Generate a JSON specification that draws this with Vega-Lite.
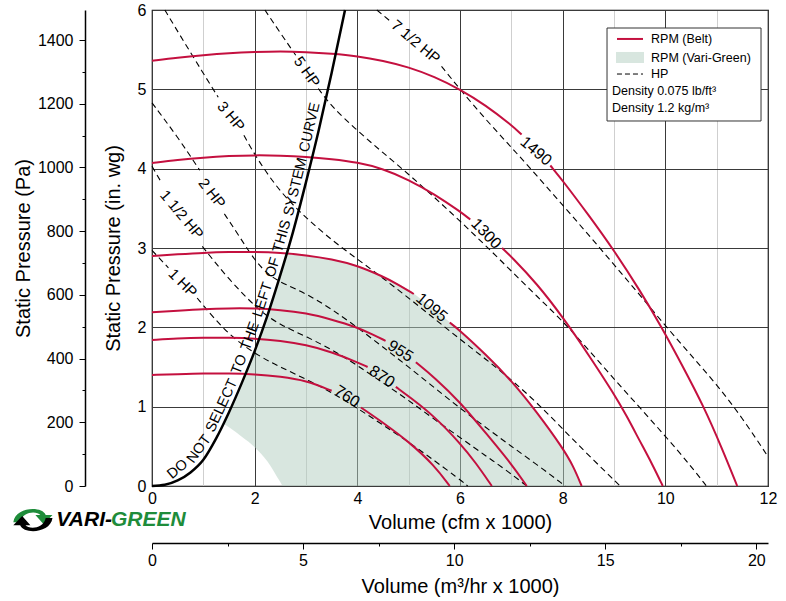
{
 "$schema": "https://vega.github.io/schema/vega-lite/v6.json",
 "width": 616,
 "height": 476,
 "autosize": {"type": "none"},
 "padding": {"left": 152, "top": 10, "right": 18, "bottom": 115},
 "background": "white",
 "config": {
  "font": "Liberation Sans",
  "view": {"stroke": "black", "strokeWidth": 1.2},
  "axis": {"labelFont": "Liberation Sans", "titleFont": "Liberation Sans", "labelColor": "black", "titleColor": "black", "titleFontWeight": "normal", "labelFontSize": 16, "titleFontSize": 20, "labelFlush": false, "labelOverlap": false, "tickColor": "black", "domainColor": "black"}
 },
 "datasets": {
  "curves": [
   {"k":"rpm","n":"1490","s":"a","x":0,"y":5.36},{"k":"rpm","n":"1490","s":"a","x":0.5,"y":5.4},{"k":"rpm","n":"1490","s":"a","x":1,"y":5.43},{"k":"rpm","n":"1490","s":"a","x":1.5,"y":5.455},{"k":"rpm","n":"1490","s":"a","x":2,"y":5.47},{"k":"rpm","n":"1490","s":"a","x":2.5,"y":5.48},{"k":"rpm","n":"1490","s":"a","x":3,"y":5.47},{"k":"rpm","n":"1490","s":"a","x":3.5,"y":5.45},{"k":"rpm","n":"1490","s":"a","x":4,"y":5.42},{"k":"rpm","n":"1490","s":"a","x":4.5,"y":5.36},{"k":"rpm","n":"1490","s":"a","x":5,"y":5.28},{"k":"rpm","n":"1490","s":"a","x":5.5,"y":5.16},{"k":"rpm","n":"1490","s":"a","x":6,"y":5.0},{"k":"rpm","n":"1490","s":"a","x":6.5,"y":4.8},{"k":"rpm","n":"1490","s":"a","x":7,"y":4.55},{"k":"rpm","n":"1490","s":"a","x":7.2,"y":4.43},
   {"k":"rpm","n":"1490","s":"b","x":7.76,"y":4.04},{"k":"rpm","n":"1490","s":"b","x":8,"y":3.85},{"k":"rpm","n":"1490","s":"b","x":8.5,"y":3.42},{"k":"rpm","n":"1490","s":"b","x":9,"y":2.97},{"k":"rpm","n":"1490","s":"b","x":9.5,"y":2.47},{"k":"rpm","n":"1490","s":"b","x":9.93,"y":2.0},{"k":"rpm","n":"1490","s":"b","x":10.33,"y":1.52},{"k":"rpm","n":"1490","s":"b","x":10.75,"y":1.0},{"k":"rpm","n":"1490","s":"b","x":11.1,"y":0.48},{"k":"rpm","n":"1490","s":"b","x":11.4,"y":0},
   {"k":"rpm","n":"1300","s":"a","x":0,"y":4.07},{"k":"rpm","n":"1300","s":"a","x":0.5,"y":4.11},{"k":"rpm","n":"1300","s":"a","x":1,"y":4.14},{"k":"rpm","n":"1300","s":"a","x":1.5,"y":4.16},{"k":"rpm","n":"1300","s":"a","x":2,"y":4.17},{"k":"rpm","n":"1300","s":"a","x":2.5,"y":4.165},{"k":"rpm","n":"1300","s":"a","x":3,"y":4.15},{"k":"rpm","n":"1300","s":"a","x":3.5,"y":4.12},{"k":"rpm","n":"1300","s":"a","x":4,"y":4.08},{"k":"rpm","n":"1300","s":"a","x":4.5,"y":4.0},{"k":"rpm","n":"1300","s":"a","x":5,"y":3.86},{"k":"rpm","n":"1300","s":"a","x":5.5,"y":3.68},{"k":"rpm","n":"1300","s":"a","x":6,"y":3.46},{"k":"rpm","n":"1300","s":"a","x":6.2,"y":3.36},
   {"k":"rpm","n":"1300","s":"b","x":6.82,"y":3.0},{"k":"rpm","n":"1300","s":"b","x":7,"y":2.89},{"k":"rpm","n":"1300","s":"b","x":7.5,"y":2.55},{"k":"rpm","n":"1300","s":"b","x":8,"y":2.13},{"k":"rpm","n":"1300","s":"b","x":8.5,"y":1.66},{"k":"rpm","n":"1300","s":"b","x":9,"y":1.16},{"k":"rpm","n":"1300","s":"b","x":9.25,"y":0.88},{"k":"rpm","n":"1300","s":"b","x":9.5,"y":0.57},{"k":"rpm","n":"1300","s":"b","x":9.75,"y":0.27},{"k":"rpm","n":"1300","s":"b","x":9.95,"y":0},
   {"k":"rpm","n":"1095","s":"a","x":0,"y":2.9},{"k":"rpm","n":"1095","s":"a","x":0.5,"y":2.92},{"k":"rpm","n":"1095","s":"a","x":1,"y":2.94},{"k":"rpm","n":"1095","s":"a","x":1.5,"y":2.95},{"k":"rpm","n":"1095","s":"a","x":2,"y":2.95},{"k":"rpm","n":"1095","s":"a","x":2.5,"y":2.94},{"k":"rpm","n":"1095","s":"a","x":3,"y":2.91},{"k":"rpm","n":"1095","s":"a","x":3.5,"y":2.86},{"k":"rpm","n":"1095","s":"a","x":4,"y":2.78},{"k":"rpm","n":"1095","s":"a","x":4.5,"y":2.64},{"k":"rpm","n":"1095","s":"a","x":4.8,"y":2.54},{"k":"rpm","n":"1095","s":"a","x":5.1,"y":2.42},
   {"k":"rpm","n":"1095","s":"b","x":5.8,"y":2.06},{"k":"rpm","n":"1095","s":"b","x":6,"y":1.96},{"k":"rpm","n":"1095","s":"b","x":6.5,"y":1.66},{"k":"rpm","n":"1095","s":"b","x":7,"y":1.33},{"k":"rpm","n":"1095","s":"b","x":7.5,"y":0.93},{"k":"rpm","n":"1095","s":"b","x":8,"y":0.48},{"k":"rpm","n":"1095","s":"b","x":8.2,"y":0.26},{"k":"rpm","n":"1095","s":"b","x":8.37,"y":0},
   {"k":"rpm","n":"955","s":"a","x":0,"y":2.19},{"k":"rpm","n":"955","s":"a","x":0.5,"y":2.21},{"k":"rpm","n":"955","s":"a","x":1,"y":2.23},{"k":"rpm","n":"955","s":"a","x":1.5,"y":2.24},{"k":"rpm","n":"955","s":"a","x":2,"y":2.24},{"k":"rpm","n":"955","s":"a","x":2.5,"y":2.22},{"k":"rpm","n":"955","s":"a","x":3,"y":2.18},{"k":"rpm","n":"955","s":"a","x":3.5,"y":2.1},{"k":"rpm","n":"955","s":"a","x":4,"y":2.0},{"k":"rpm","n":"955","s":"a","x":4.3,"y":1.91},{"k":"rpm","n":"955","s":"a","x":4.55,"y":1.83},
   {"k":"rpm","n":"955","s":"b","x":5.14,"y":1.56},{"k":"rpm","n":"955","s":"b","x":5.5,"y":1.37},{"k":"rpm","n":"955","s":"b","x":6,"y":1.06},{"k":"rpm","n":"955","s":"b","x":6.5,"y":0.67},{"k":"rpm","n":"955","s":"b","x":7,"y":0.28},{"k":"rpm","n":"955","s":"b","x":7.3,"y":0},
   {"k":"rpm","n":"870","s":"a","x":0,"y":1.84},{"k":"rpm","n":"870","s":"a","x":0.5,"y":1.86},{"k":"rpm","n":"870","s":"a","x":1,"y":1.87},{"k":"rpm","n":"870","s":"a","x":1.5,"y":1.87},{"k":"rpm","n":"870","s":"a","x":2,"y":1.86},{"k":"rpm","n":"870","s":"a","x":2.5,"y":1.83},{"k":"rpm","n":"870","s":"a","x":3,"y":1.78},{"k":"rpm","n":"870","s":"a","x":3.5,"y":1.69},{"k":"rpm","n":"870","s":"a","x":4,"y":1.56},{"k":"rpm","n":"870","s":"a","x":4.2,"y":1.5},
   {"k":"rpm","n":"870","s":"b","x":4.75,"y":1.25},{"k":"rpm","n":"870","s":"b","x":5,"y":1.13},{"k":"rpm","n":"870","s":"b","x":5.5,"y":0.88},{"k":"rpm","n":"870","s":"b","x":6,"y":0.54},{"k":"rpm","n":"870","s":"b","x":6.3,"y":0.3},{"k":"rpm","n":"870","s":"b","x":6.62,"y":0},
   {"k":"rpm","n":"760","s":"a","x":0,"y":1.4},{"k":"rpm","n":"760","s":"a","x":0.5,"y":1.41},{"k":"rpm","n":"760","s":"a","x":1,"y":1.42},{"k":"rpm","n":"760","s":"a","x":1.5,"y":1.42},{"k":"rpm","n":"760","s":"a","x":2,"y":1.41},{"k":"rpm","n":"760","s":"a","x":2.5,"y":1.38},{"k":"rpm","n":"760","s":"a","x":3,"y":1.33},{"k":"rpm","n":"760","s":"a","x":3.5,"y":1.2},
   {"k":"rpm","n":"760","s":"b","x":4.07,"y":0.99},{"k":"rpm","n":"760","s":"b","x":4.5,"y":0.8},{"k":"rpm","n":"760","s":"b","x":5,"y":0.56},{"k":"rpm","n":"760","s":"b","x":5.5,"y":0.26},{"k":"rpm","n":"760","s":"b","x":5.8,"y":0},
   {"k":"hp","n":"7.5","s":"a","x":4.38,"y":6.0},{"k":"hp","n":"7.5","s":"a","x":4.64,"y":5.86},
   {"k":"hp","n":"7.5","s":"b","x":5.64,"y":5.29},{"k":"hp","n":"7.5","s":"b","x":6,"y":5.0},{"k":"hp","n":"7.5","s":"b","x":6.5,"y":4.62},{"k":"hp","n":"7.5","s":"b","x":7,"y":4.27},{"k":"hp","n":"7.5","s":"b","x":7.5,"y":3.91},{"k":"hp","n":"7.5","s":"b","x":8,"y":3.54},{"k":"hp","n":"7.5","s":"b","x":8.5,"y":3.17},{"k":"hp","n":"7.5","s":"b","x":9,"y":2.79},{"k":"hp","n":"7.5","s":"b","x":9.5,"y":2.41},{"k":"hp","n":"7.5","s":"b","x":10,"y":2.02},{"k":"hp","n":"7.5","s":"b","x":10.5,"y":1.65},{"k":"hp","n":"7.5","s":"b","x":11,"y":1.28},{"k":"hp","n":"7.5","s":"b","x":11.5,"y":0.86},{"k":"hp","n":"7.5","s":"b","x":12,"y":0.37},
   {"k":"hp","n":"5","s":"a","x":2.2,"y":6.0},{"k":"hp","n":"5","s":"a","x":2.5,"y":5.71},{"k":"hp","n":"5","s":"a","x":2.8,"y":5.43},
   {"k":"hp","n":"5","s":"b","x":3.24,"y":5.01},{"k":"hp","n":"5","s":"b","x":3.5,"y":4.78},{"k":"hp","n":"5","s":"b","x":4,"y":4.48},{"k":"hp","n":"5","s":"b","x":4.5,"y":4.2},{"k":"hp","n":"5","s":"b","x":5,"y":3.93},{"k":"hp","n":"5","s":"b","x":5.5,"y":3.64},{"k":"hp","n":"5","s":"b","x":6,"y":3.34},{"k":"hp","n":"5","s":"b","x":6.5,"y":3.03},{"k":"hp","n":"5","s":"b","x":7,"y":2.71},{"k":"hp","n":"5","s":"b","x":7.5,"y":2.39},{"k":"hp","n":"5","s":"b","x":8,"y":2.08},{"k":"hp","n":"5","s":"b","x":8.5,"y":1.72},{"k":"hp","n":"5","s":"b","x":9,"y":1.35},{"k":"hp","n":"5","s":"b","x":9.5,"y":0.99},{"k":"hp","n":"5","s":"b","x":10,"y":0.63},{"k":"hp","n":"5","s":"b","x":10.5,"y":0.25},{"k":"hp","n":"5","s":"b","x":10.8,"y":0},
   {"k":"hp","n":"3","s":"a","x":0.25,"y":6.0},{"k":"hp","n":"3","s":"a","x":0.5,"y":5.73},{"k":"hp","n":"3","s":"a","x":1,"y":5.2},{"k":"hp","n":"3","s":"a","x":1.29,"y":4.9},
   {"k":"hp","n":"3","s":"b","x":1.79,"y":4.42},{"k":"hp","n":"3","s":"b","x":2.05,"y":4.12},{"k":"hp","n":"3","s":"b","x":2.5,"y":3.7},{"k":"hp","n":"3","s":"b","x":3,"y":3.38},{"k":"hp","n":"3","s":"b","x":3.5,"y":3.1},{"k":"hp","n":"3","s":"b","x":4,"y":2.86},{"k":"hp","n":"3","s":"b","x":4.5,"y":2.62},{"k":"hp","n":"3","s":"b","x":5,"y":2.37},{"k":"hp","n":"3","s":"b","x":5.5,"y":2.11},{"k":"hp","n":"3","s":"b","x":6,"y":1.85},{"k":"hp","n":"3","s":"b","x":6.5,"y":1.6},{"k":"hp","n":"3","s":"b","x":7,"y":1.34},{"k":"hp","n":"3","s":"b","x":7.5,"y":1.05},{"k":"hp","n":"3","s":"b","x":8,"y":0.72},{"k":"hp","n":"3","s":"b","x":8.5,"y":0.39},{"k":"hp","n":"3","s":"b","x":9.12,"y":0},
   {"k":"hp","n":"2","s":"a","x":0,"y":4.83},{"k":"hp","n":"2","s":"a","x":0.5,"y":4.4},{"k":"hp","n":"2","s":"a","x":0.93,"y":3.98},
   {"k":"hp","n":"2","s":"b","x":1.41,"y":3.43},{"k":"hp","n":"2","s":"b","x":1.68,"y":3.17},{"k":"hp","n":"2","s":"b","x":2,"y":2.84},{"k":"hp","n":"2","s":"b","x":2.3,"y":2.64},{"k":"hp","n":"2","s":"b","x":2.6,"y":2.54},{"k":"hp","n":"2","s":"b","x":3.02,"y":2.42},{"k":"hp","n":"2","s":"b","x":3.5,"y":2.23},{"k":"hp","n":"2","s":"b","x":4,"y":2.0},{"k":"hp","n":"2","s":"b","x":4.5,"y":1.75},{"k":"hp","n":"2","s":"b","x":5,"y":1.5},{"k":"hp","n":"2","s":"b","x":5.5,"y":1.24},{"k":"hp","n":"2","s":"b","x":6,"y":0.98},{"k":"hp","n":"2","s":"b","x":6.5,"y":0.74},{"k":"hp","n":"2","s":"b","x":7,"y":0.5},{"k":"hp","n":"2","s":"b","x":7.5,"y":0.27},{"k":"hp","n":"2","s":"b","x":8.05,"y":0},
   {"k":"hp","n":"1.5","s":"a","x":0,"y":4.03},{"k":"hp","n":"1.5","s":"a","x":0.18,"y":3.83},
   {"k":"hp","n":"1.5","s":"b","x":0.98,"y":3.02},{"k":"hp","n":"1.5","s":"b","x":1.5,"y":2.6},{"k":"hp","n":"1.5","s":"b","x":2.1,"y":2.2},{"k":"hp","n":"1.5","s":"b","x":2.5,"y":2.03},{"k":"hp","n":"1.5","s":"b","x":3.02,"y":1.88},{"k":"hp","n":"1.5","s":"b","x":3.53,"y":1.71},{"k":"hp","n":"1.5","s":"b","x":4,"y":1.52},{"k":"hp","n":"1.5","s":"b","x":4.5,"y":1.3},{"k":"hp","n":"1.5","s":"b","x":5,"y":1.08},{"k":"hp","n":"1.5","s":"b","x":5.5,"y":0.84},{"k":"hp","n":"1.5","s":"b","x":6.07,"y":0.58},{"k":"hp","n":"1.5","s":"b","x":6.5,"y":0.38},{"k":"hp","n":"1.5","s":"b","x":6.84,"y":0.23},{"k":"hp","n":"1.5","s":"b","x":7.3,"y":0},
   {"k":"hp","n":"1","s":"a","x":0,"y":2.97},{"k":"hp","n":"1","s":"a","x":0.32,"y":2.75},
   {"k":"hp","n":"1","s":"b","x":0.88,"y":2.37},{"k":"hp","n":"1","s":"b","x":1.2,"y":2.12},{"k":"hp","n":"1","s":"b","x":1.58,"y":1.86},{"k":"hp","n":"1","s":"b","x":2.1,"y":1.63},{"k":"hp","n":"1","s":"b","x":2.5,"y":1.5},{"k":"hp","n":"1","s":"b","x":3.02,"y":1.34},{"k":"hp","n":"1","s":"b","x":3.53,"y":1.17},{"k":"hp","n":"1","s":"b","x":4.05,"y":0.96},{"k":"hp","n":"1","s":"b","x":4.5,"y":0.77},{"k":"hp","n":"1","s":"b","x":5.03,"y":0.54},{"k":"hp","n":"1","s":"b","x":5.5,"y":0.32},{"k":"hp","n":"1","s":"b","x":5.94,"y":0.11},{"k":"hp","n":"1","s":"b","x":6.15,"y":0},
   {"k":"sys","n":"system","s":"a","x":0,"y":0},{"k":"sys","n":"system","s":"a","x":0.25,"y":0.015},{"k":"sys","n":"system","s":"a","x":0.5,"y":0.07},{"k":"sys","n":"system","s":"a","x":0.75,"y":0.17},{"k":"sys","n":"system","s":"a","x":1,"y":0.33},{"k":"sys","n":"system","s":"a","x":1.25,"y":0.6},{"k":"sys","n":"system","s":"a","x":1.5,"y":0.93},{"k":"sys","n":"system","s":"a","x":1.75,"y":1.3},{"k":"sys","n":"system","s":"a","x":2,"y":1.7},{"k":"sys","n":"system","s":"a","x":2.25,"y":2.15},{"k":"sys","n":"system","s":"a","x":2.5,"y":2.66},{"k":"sys","n":"system","s":"a","x":2.75,"y":3.21},{"k":"sys","n":"system","s":"a","x":3,"y":3.83},{"k":"sys","n":"system","s":"a","x":3.25,"y":4.49},{"k":"sys","n":"system","s":"a","x":3.5,"y":5.21},{"k":"sys","n":"system","s":"a","x":3.76,"y":6.0}
  ],
  "green": [
   {"x":1.38,"top":0.79,"bot":0.79},{"x":1.5,"top":0.93,"bot":0.74},{"x":1.75,"top":1.3,"bot":0.62},{"x":2,"top":1.7,"bot":0.49},{"x":2.25,"top":2.15,"bot":0.31},{"x":2.5,"top":2.66,"bot":0.05},{"x":2.55,"top":2.77,"bot":0},{"x":2.63,"top":2.94,"bot":0},{"x":3,"top":2.91,"bot":0},{"x":3.5,"top":2.86,"bot":0},{"x":4,"top":2.78,"bot":0},{"x":4.5,"top":2.64,"bot":0},{"x":5,"top":2.47,"bot":0},{"x":5.5,"top":2.22,"bot":0},{"x":6,"top":1.96,"bot":0},{"x":6.5,"top":1.66,"bot":0},{"x":7,"top":1.33,"bot":0},{"x":7.5,"top":0.93,"bot":0},{"x":8,"top":0.48,"bot":0},{"x":8.2,"top":0.26,"bot":0},{"x":8.37,"top":0,"bot":0}
  ]
 },
 "layer": [
  {
   "data": {"values": [{"m3": 0, "pa": 0}, {"m3": 20.388, "pa": 1494.5}]},
   "mark": {"type": "point", "opacity": 0},
   "encoding": {
    "x": {"field": "m3", "type": "quantitative", "scale": {"domain": [0, 20.388], "nice": false, "zero": false},
     "axis": {"orient": "bottom", "offset": 57, "title": "Volume (m³/hr x 1000)", "values": [0, 2.5, 5, 7.5, 10, 12.5, 15, 17.5, 20], "format": "d", "labelExpr": "datum.value % 5 === 0 ? datum.label : ''", "tickSize": {"condition": {"test": "datum.value % 5 === 0", "value": 6}, "value": 3}, "grid": false, "domainWidth": 1.5, "labelPadding": 3, "titlePadding": 8}},
    "y": {"field": "pa", "type": "quantitative", "scale": {"domain": [0, 1494.5], "nice": false, "zero": false},
     "axis": {"orient": "left", "offset": 67, "title": "Static Pressure (Pa)", "values": [0, 100, 200, 300, 400, 500, 600, 700, 800, 900, 1000, 1100, 1200, 1300, 1400], "format": "d", "labelExpr": "datum.value % 200 === 0 ? datum.label : ''", "tickSize": {"condition": {"test": "datum.value % 200 === 0", "value": 6}, "value": 3}, "grid": false, "domainWidth": 1.5, "labelPadding": 6, "titlePadding": 4}}
   }
  },
  {
   "layer": [
    {
     "data": {"name": "green"},
     "mark": {"type": "area", "color": "#b1cdbf", "opacity": 0.5, "interpolate": "monotone"},
     "encoding": {
      "x": {"field": "x", "type": "quantitative", "scale": {"domain": [0, 12], "nice": false, "zero": false},
       "axis": {"orient": "bottom", "title": "Volume (cfm x 1000)", "values": [0,1,2,3,4,5,6,7,8,9,10,11,12], "format": "d", "labelExpr": "datum.value % 2 === 0 ? datum.label : ''", "domain": false, "ticks": false, "labelPadding": 4, "titlePadding": 6, "grid": true, "gridWidth": 1, "gridColor": {"condition": {"test": "datum.value % 2 === 0", "value": "#3a3a3a"}, "value": "#cfcfcf"}}},
      "y": {"field": "top", "type": "quantitative", "scale": {"domain": [0, 6], "nice": false, "zero": false},
       "axis": {"orient": "left", "title": "Static Pressure (in. wg)", "values": [0,0.5,1,1.5,2,2.5,3,3.5,4,4.5,5,5.5,6], "format": "d", "labelExpr": "datum.value % 1 === 0 ? datum.label : ''", "domain": false, "ticks": false, "labelPadding": 6, "titlePadding": 14, "grid": true, "gridWidth": 1, "gridColor": {"condition": {"test": "datum.value % 1 === 0", "value": "#3a3a3a"}, "value": "#cfcfcf"}}},
      "y2": {"field": "bot"}
     }
    },
    {
     "data": {"name": "curves"},
     "transform": [{"filter": "datum.k === 'hp'"}],
     "mark": {"type": "line", "color": "black", "strokeWidth": 1.1, "strokeDash": [6, 4], "interpolate": "basis"},
     "encoding": {"x": {"field": "x", "type": "quantitative"}, "y": {"field": "y", "type": "quantitative"}, "detail": [{"field": "n"}, {"field": "s"}]}
    },
    {
     "data": {"name": "curves"},
     "transform": [{"filter": "datum.k === 'rpm'"}],
     "mark": {"type": "line", "color": "#c4103f", "strokeWidth": 2, "interpolate": "basis"},
     "encoding": {"x": {"field": "x", "type": "quantitative"}, "y": {"field": "y", "type": "quantitative"}, "detail": [{"field": "n"}, {"field": "s"}]}
    },
    {
     "data": {"name": "curves"},
     "transform": [{"filter": "datum.k === 'sys'"}],
     "mark": {"type": "line", "color": "black", "strokeWidth": 2.5, "interpolate": "monotone"},
     "encoding": {"x": {"field": "x", "type": "quantitative"}, "y": {"field": "y", "type": "quantitative"}}
    },
    {"data": {"values": [{}]}, "mark": {"type": "text", "angle": 40, "fontSize": 16}, "encoding": {"x": {"datum": 7.48}, "y": {"datum": 4.22}, "text": {"value": "1490"}}},
    {"data": {"values": [{}]}, "mark": {"type": "text", "angle": 46, "fontSize": 16}, "encoding": {"x": {"datum": 6.51}, "y": {"datum": 3.18}, "text": {"value": "1300"}}},
    {"data": {"values": [{}]}, "mark": {"type": "text", "angle": 40, "fontSize": 16}, "encoding": {"x": {"datum": 5.45}, "y": {"datum": 2.25}, "text": {"value": "1095"}}},
    {"data": {"values": [{}]}, "mark": {"type": "text", "angle": 32, "fontSize": 16}, "encoding": {"x": {"datum": 4.84}, "y": {"datum": 1.7}, "text": {"value": "955"}}},
    {"data": {"values": [{}]}, "mark": {"type": "text", "angle": 33, "fontSize": 16}, "encoding": {"x": {"datum": 4.48}, "y": {"datum": 1.38}, "text": {"value": "870"}}},
    {"data": {"values": [{}]}, "mark": {"type": "text", "angle": 33, "fontSize": 16}, "encoding": {"x": {"datum": 3.8}, "y": {"datum": 1.13}, "text": {"value": "760"}}},
    {"data": {"values": [{}]}, "mark": {"type": "text", "angle": 40, "fontSize": 15}, "encoding": {"x": {"datum": 5.14}, "y": {"datum": 5.6}, "text": {"value": "7 1/2 HP"}}},
    {"data": {"values": [{}]}, "mark": {"type": "text", "angle": 55, "fontSize": 15}, "encoding": {"x": {"datum": 3.02}, "y": {"datum": 5.22}, "text": {"value": "5 HP"}}},
    {"data": {"values": [{}]}, "mark": {"type": "text", "angle": 50, "fontSize": 15}, "encoding": {"x": {"datum": 1.54}, "y": {"datum": 4.66}, "text": {"value": "3 HP"}}},
    {"data": {"values": [{}]}, "mark": {"type": "text", "angle": 52, "fontSize": 15}, "encoding": {"x": {"datum": 1.17}, "y": {"datum": 3.69}, "text": {"value": "2 HP"}}},
    {"data": {"values": [{}]}, "mark": {"type": "text", "angle": 50, "fontSize": 15}, "encoding": {"x": {"datum": 0.58}, "y": {"datum": 3.42}, "text": {"value": "1 1/2 HP"}}},
    {"data": {"values": [{}]}, "mark": {"type": "text", "angle": 45, "fontSize": 15}, "encoding": {"x": {"datum": 0.6}, "y": {"datum": 2.56}, "text": {"value": "1 HP"}}},
    {"data": {"values": [{}]}, "mark": {"type": "text", "angle": -40, "fontSize": 14.5}, "encoding": {"x": {"datum": 0.5}, "y": {"datum": 0.21}, "text": {"value": "DO"}}},
    {"data": {"values": [{}]}, "mark": {"type": "text", "angle": -54, "fontSize": 14.5}, "encoding": {"x": {"datum": 0.919}, "y": {"datum": 0.464}, "text": {"value": "NOT"}}},
    {"data": {"values": [{}]}, "mark": {"type": "text", "angle": -65, "fontSize": 14.5}, "encoding": {"x": {"datum": 1.364}, "y": {"datum": 1.012}, "text": {"value": "SELECT"}}},
    {"data": {"values": [{}]}, "mark": {"type": "text", "angle": -68, "fontSize": 14.5}, "encoding": {"x": {"datum": 1.705}, "y": {"datum": 1.532}, "text": {"value": "TO"}}},
    {"data": {"values": [{}]}, "mark": {"type": "text", "angle": -70, "fontSize": 14.5}, "encoding": {"x": {"datum": 1.917}, "y": {"datum": 1.889}, "text": {"value": "THE"}}},
    {"data": {"values": [{}]}, "mark": {"type": "text", "angle": -72, "fontSize": 14.5}, "encoding": {"x": {"datum": 2.162}, "y": {"datum": 2.347}, "text": {"value": "LEFT"}}},
    {"data": {"values": [{}]}, "mark": {"type": "text", "angle": -73, "fontSize": 14.5}, "encoding": {"x": {"datum": 2.359}, "y": {"datum": 2.754}, "text": {"value": "OF"}}},
    {"data": {"values": [{}]}, "mark": {"type": "text", "angle": -74, "fontSize": 14.5}, "encoding": {"x": {"datum": 2.538}, "y": {"datum": 3.149}, "text": {"value": "THIS"}}},
    {"data": {"values": [{}]}, "mark": {"type": "text", "angle": -76, "fontSize": 14.5}, "encoding": {"x": {"datum": 2.8}, "y": {"datum": 3.77}, "text": {"value": "SYSTEM"}}},
    {"data": {"values": [{}]}, "mark": {"type": "text", "angle": -77, "fontSize": 14.5}, "encoding": {"x": {"datum": 3.08}, "y": {"datum": 4.52}, "text": {"value": "CURVE"}}},
    {"data": {"values": [{}]}, "mark": {"type": "rect", "fill": "white", "stroke": "#333333", "strokeWidth": 1}, "encoding": {"x": {"datum": 8.864}, "x2": {"datum": 11.864}, "y": {"datum": 5.773}, "y2": {"datum": 4.601}}},
    {"data": {"values": [{}]}, "mark": {"type": "rule", "color": "#c4103f", "strokeWidth": 2}, "encoding": {"x": {"datum": 9.058}, "x2": {"datum": 9.565}, "y": {"datum": 5.635}}},
    {"data": {"values": [{}]}, "mark": {"type": "rect", "fill": "#d8e6df"}, "encoding": {"x": {"datum": 9.039}, "x2": {"datum": 9.584}, "y": {"datum": 5.471}, "y2": {"datum": 5.332}}},
    {"data": {"values": [{}]}, "mark": {"type": "rule", "color": "black", "strokeWidth": 1, "strokeDash": [5, 3]}, "encoding": {"x": {"datum": 9.058}, "x2": {"datum": 9.565}, "y": {"datum": 5.193}}},
    {"data": {"values": [{}]}, "mark": {"type": "text", "align": "left", "fontSize": 12.5}, "encoding": {"x": {"datum": 9.721}, "y": {"datum": 5.635}, "text": {"value": "RPM (Belt)"}}},
    {"data": {"values": [{}]}, "mark": {"type": "text", "align": "left", "fontSize": 12.5}, "encoding": {"x": {"datum": 9.721}, "y": {"datum": 5.4}, "text": {"value": "RPM (Vari-Green)"}}},
    {"data": {"values": [{}]}, "mark": {"type": "text", "align": "left", "fontSize": 12.5}, "encoding": {"x": {"datum": 9.721}, "y": {"datum": 5.193}, "text": {"value": "HP"}}},
    {"data": {"values": [{}]}, "mark": {"type": "text", "align": "left", "fontSize": 12.5}, "encoding": {"x": {"datum": 8.961}, "y": {"datum": 4.979}, "text": {"value": "Density 0.075 lb/ft³"}}},
    {"data": {"values": [{}]}, "mark": {"type": "text", "align": "left", "fontSize": 12.5}, "encoding": {"x": {"datum": 8.961}, "y": {"datum": 4.765}, "text": {"value": "Density 1.2 kg/m³"}}},
    {"data": {"values": [{}]}, "mark": {"type": "point", "shape": "M-0.95,0.1 C-0.85,-0.65 0.45,-0.7 0.62,-0.25 L0.95,-0.25 L0.52,0.2 L0.12,-0.25 L0.36,-0.25 C0.2,-0.45 -0.5,-0.45 -0.62,0.1 Z", "filled": true, "color": "#1e8c3a", "opacity": 1, "size": 1700, "strokeWidth": 0}, "encoding": {"x": {"datum": -2.32}, "y": {"datum": -0.43}}},
    {"data": {"values": [{}]}, "mark": {"type": "point", "shape": "M0.95,-0.1 C0.85,0.65 -0.45,0.7 -0.62,0.25 L-0.95,0.25 L-0.52,-0.2 L-0.12,0.25 L-0.36,0.25 C-0.2,0.45 0.5,0.45 0.62,-0.1 Z", "filled": true, "color": "black", "opacity": 1, "size": 1700, "strokeWidth": 0}, "encoding": {"x": {"datum": -2.32}, "y": {"datum": -0.43}}},
    {"data": {"values": [{}]}, "mark": {"type": "text", "align": "right", "fontSize": 21, "fontWeight": "bold", "fontStyle": "italic", "color": "black"}, "encoding": {"x": {"datum": -0.78}, "y": {"datum": -0.43}, "text": {"value": "VARI-"}}},
    {"data": {"values": [{}]}, "mark": {"type": "text", "align": "left", "fontSize": 21, "fontWeight": "bold", "fontStyle": "italic", "color": "#1e8c3a"}, "encoding": {"x": {"datum": -0.8}, "y": {"datum": -0.43}, "text": {"value": "GREEN"}}}
   ]
  }
 ],
 "resolve": {"scale": {"x": "independent", "y": "independent"}, "axis": {"x": "independent", "y": "independent"}}
}
